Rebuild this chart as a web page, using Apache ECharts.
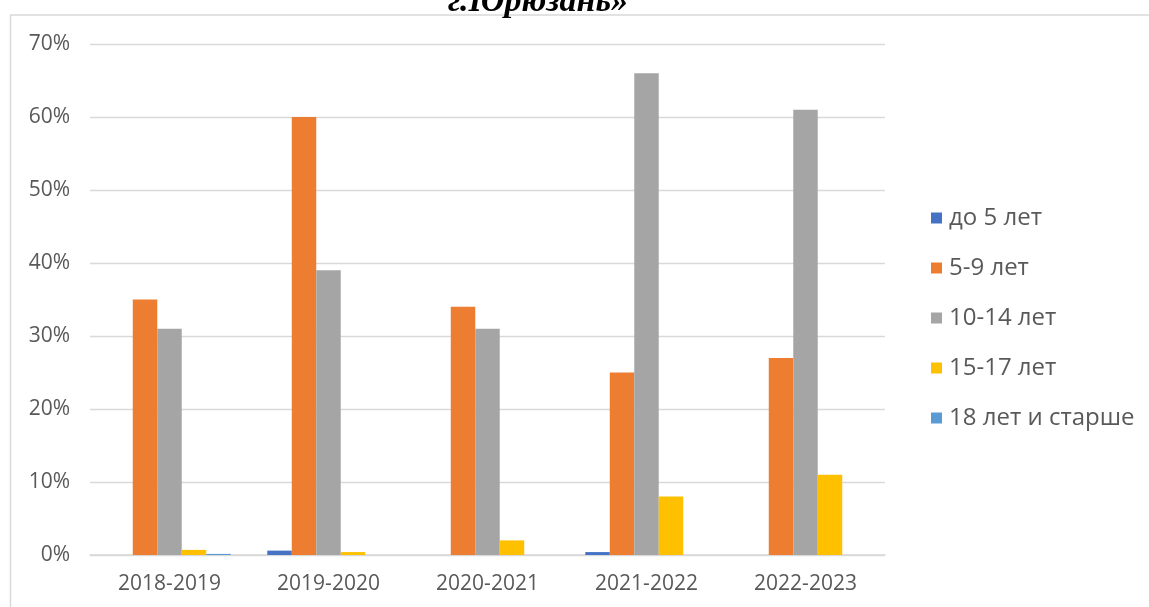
<!DOCTYPE html>
<html>
<head>
<meta charset="utf-8">
<script src="https://cdn.jsdelivr.net/npm/echarts@6/dist/echarts.min.js"></script>
<style>html,body{margin:0;padding:0;background:#fff;}#c{width:1149px;height:607px;}</style>
</head>
<body>
<div id="c"></div>
<script>
const categories = ['2018-2019', '2019-2020', '2020-2021', '2021-2022', '2022-2023'];
const seriesNames = ['до 5 лет', '5-9 лет', '10-14 лет', '15-17 лет', '18 лет и старше'];
const s_under5 = [0, 0.6, 0, 0.4, 0];
const s_5_9 = [35, 60, 34, 25, 27];
const s_10_14 = [31, 39, 31, 66, 61];
const s_15_17 = [0.7, 0.4, 2, 8, 11];
const s_18plus = [0.15, 0, 0, 0, 0];
const yTicks = [0, 10, 20, 30, 40, 50, 60, 70];
const colors = ['#4472C4', '#ED7D31', '#A5A5A5', '#FFC000', '#5B9BD5'];
const allData = [s_under5, s_5_9, s_10_14, s_15_17, s_18plus];

const chart = echarts.init(document.getElementById('c'));
chart.setOption({
  animation: false,
  color: colors,
  textStyle: { fontFamily: 'Open Sans, Noto Sans, sans-serif' },
  graphic: [
    { type: 'line', shape: { x1: 10, y1: 15, x2: 1149, y2: 15 }, style: { stroke: '#D9D9D9', lineWidth: 1.5 }, silent: true, z: -1 },
    { type: 'line', shape: { x1: 10.5, y1: 15, x2: 10.5, y2: 607 }, style: { stroke: '#D9D9D9', lineWidth: 1.5 }, silent: true, z: -1 },
    { type: 'text', x: 538, y: 19, style: { text: 'г.Юрюзань»', font: 'italic bold 34px "Liberation Serif", serif', fill: '#000', textAlign: 'center', textVerticalAlign: 'bottom' } }
  ],
  grid: { left: 90, right: 264, top: 44, bottom: 52, containLabel: false },
  legend: {
    orient: 'vertical', left: 926, top: 201,
    itemWidth: 11, itemHeight: 11, itemGap: 26, icon: 'rect',
    textStyle: { fontSize: 24, color: '#595959', padding: [0, 0, 0, 2] },
    data: seriesNames
  },
  xAxis: {
    type: 'category', data: categories,
    axisLine: { lineStyle: { color: '#D9D9D9', width: 1.5 } },
    axisTick: { show: false },
    axisLabel: { fontSize: 21, color: '#595959', margin: 19 }
  },
  yAxis: {
    type: 'value', min: 0, max: 70, interval: 10,
    axisLine: { show: false }, axisTick: { show: false },
    splitLine: { lineStyle: { color: '#D9D9D9', width: 1.3 } },
    axisLabel: { fontSize: 21, color: '#595959', margin: 20, formatter: v => yTicks.includes(v) ? v + '%' : '' }
  },
  series: seriesNames.map((n, i) => ({
    name: n, type: 'bar', data: allData[i],
    barGap: '0%', barCategoryGap: '23%',
    itemStyle: { color: colors[i] }
  }))
});
</script>
</body>
</html>
